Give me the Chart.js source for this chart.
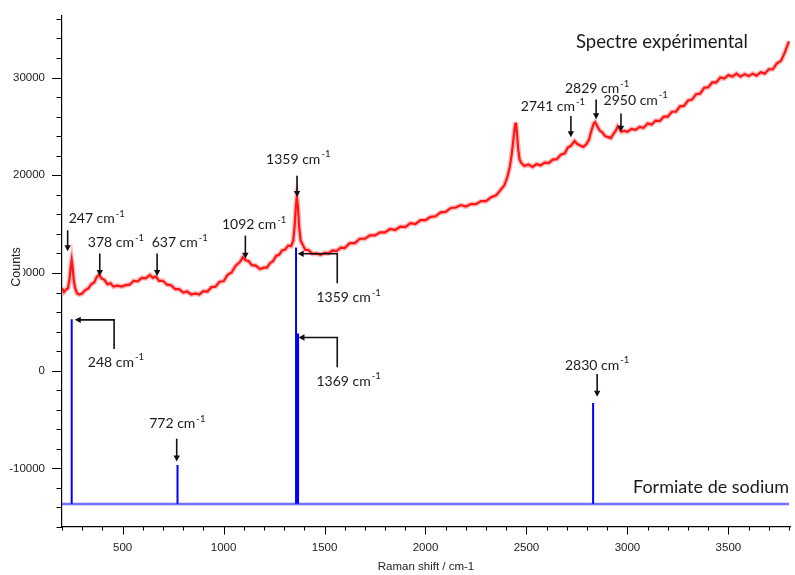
<!DOCTYPE html>
<html>
<head>
<meta charset="utf-8">
<script src="https://cdn.jsdelivr.net/npm/chart.js@4.4.1/dist/chart.umd.min.js"></script>
<style>
  body { margin: 0; background: #fff; }
  canvas { display: block; }
</style>
</head>
<body>
<canvas id="chart" width="795" height="575" style="width:795px;height:575px"></canvas>
<script>
// spectre experimental (Raman shift cm-1 / counts)
const redX = [200,210,220,230,238,244,248,252,258,265,275,285,300,315,330,345,360,372,384,395,410,425,440,455,475,495,515,535,555,575,595,615,635,650,665,680,700,720,740,760,780,800,820,840,860,880,900,920,940,960,980,1000,1020,1040,1060,1080,1095,1110,1125,1140,1160,1180,1200,1215,1230,1245,1260,1275,1290,1305,1320,1335,1345,1352,1358,1363,1368,1374,1382,1392,1405,1420,1440,1460,1480,1500,1520,1540,1560,1580,1600,1625,1650,1675,1700,1725,1750,1775,1800,1825,1850,1875,1900,1925,1950,1975,2000,2025,2050,2075,2100,2125,2150,2175,2200,2225,2250,2275,2300,2325,2350,2370,2390,2405,2418,2428,2437,2444,2448,2453,2459,2466,2475,2490,2510,2530,2550,2570,2590,2610,2630,2650,2670,2690,2705,2720,2738,2752,2767,2782,2797,2810,2822,2833,2840,2850,2862,2875,2890,2905,2918,2930,2942,2952,2960,2970,2985,3000,3020,3040,3060,3080,3100,3120,3140,3160,3180,3200,3220,3240,3260,3280,3300,3320,3340,3360,3380,3400,3420,3440,3460,3480,3500,3520,3540,3560,3580,3600,3620,3640,3660,3680,3700,3720,3740,3760,3780,3800];
const redY = [8450,8050,8300,8450,9500,10800,11350,10700,9300,8450,7900,7800,7900,8250,8400,8850,9050,9600,9850,9450,9300,8850,8950,8600,8700,8600,8750,8800,9200,9150,9500,9450,9800,9500,9650,9200,9200,8800,8750,8350,8350,8000,8100,7800,7900,7800,8150,8100,8550,8600,9100,9150,9800,10050,10750,11100,11600,11300,11200,10800,10750,10400,10550,10550,11000,11200,11750,11850,12300,12400,12800,12750,13300,14800,16800,17800,16900,14800,13300,12900,12350,12350,11950,12000,11850,12050,12000,12300,12250,12600,12550,13050,13050,13500,13500,13850,13850,14150,14150,14500,14400,14750,14700,15100,15000,15400,15400,15750,15800,16200,16250,16650,16700,16950,16800,17050,17050,17350,17350,17750,17950,18450,18950,19800,20900,22300,24000,25200,25400,24300,22700,21600,21250,20950,21100,20850,21150,21000,21300,21250,21600,21650,22100,22250,22850,23000,23500,23200,23050,22900,23200,23650,24600,25300,25450,25050,24600,24400,24000,23900,23800,24200,24550,25000,24800,24450,24550,24450,24750,24650,24950,24850,25300,25200,25600,25550,26000,26000,26500,26500,27050,27100,27650,27750,28300,28350,28950,29000,29500,29500,30000,29900,30250,30100,30400,30100,30350,30150,30400,30200,30550,30400,30850,30850,31450,31700,32600,33700];

// formiate de sodium (raies)
const stickX = [248, 772, 1359, 1369, 2830];
const stickTop = [5270, -9650, 12600, 3800, -3300];
const baseY = -13640;
const baseX = [200, 3800];

const xTicks = [500, 1000, 1500, 2000, 2500, 3000, 3500];
const yTicks = [-10000, 0, 10000, 20000, 30000];

// annotations : [texte, x centre, y centre]
const redLabels = [
  ['247', 372, 15560], ['378', 467, 13080], ['637', 783, 13080], ['1092', 1151, 14950],
  ['1359', 1370, 21640], ['2741', 2631, 27000], ['2829', 2850, 28880], ['2950', 3041, 27690]
];
// fleches verticales : [x, y haut, y pointe]
const redArrows = [
  [228, 14370, 12230], [387, 11990, 9680], [671, 11990, 9680], [1108, 13830, 11450],
  [1364, 19940, 17770], [2720, 26060, 23890], [2845, 27760, 25720], [2968, 26330, 24460]
];
const blueLabels = [
  ['248', 467, 860], ['1359', 1619, 7480], ['1369', 1619, -1080], ['772', 771, -5430], ['2830', 2850, 580]
];
const blueArrows = [[768, -6960, -9300], [2850, -340, -2680]];
// fleches coudees : [x vertical, y bas, y coude, x pointe]
const elbows = [[458, 2210, 5200, 263], [1563, 8940, 11960, 1367], [1563, 350, 3400, 1371]];

const redData = redX.map((x, i) => ({ x, y: redY[i] }));
const stickData = [];
stickX.forEach((x, i) => {
  stickData.push({ x, y: baseY }, { x, y: stickTop[i] }, { x, y: null });
});
const baseData = baseX.map(x => ({ x, y: baseY }));

const annot = {
  id: 'annot',
  afterDraw(chart) {
    const { ctx, chartArea: a, scales: { x, y } } = chart;
    const X = v => x.getPixelForValue(v);
    const Y = v => y.getPixelForValue(v);
    ctx.save();

    // graduations
    ctx.strokeStyle = '#000';
    ctx.lineWidth = 1;
    for (let v = -16000; v <= 36000; v += 2000) {
      const py = Math.round(Y(v)) + 0.5;
      const len = v % 10000 === 0 ? 10 : 5.5;
      ctx.beginPath(); ctx.moveTo(a.left - len, py); ctx.lineTo(a.left, py); ctx.stroke();
    }
    for (let v = 200; v <= 3800; v += 100) {
      const px = Math.round(X(v)) + 0.5;
      const len = v % 500 === 0 ? 7.5 : 3.5;
      ctx.beginPath(); ctx.moveTo(px, a.bottom); ctx.lineTo(px, a.bottom + len); ctx.stroke();
    }

    // titres des axes
    ctx.fillStyle = '#222';
    ctx.font = '11.5px "Liberation Sans", Arial, sans-serif';
    ctx.textAlign = 'center';
    ctx.textBaseline = 'middle';
    ctx.fillText('Raman shift / cm-1', (a.left + a.right) / 2, 567);
    ctx.save();
    ctx.translate(17, 267);
    ctx.rotate(-Math.PI / 2);
    ctx.font = '12.5px "Liberation Sans", Arial, sans-serif';
    const cw = ctx.measureText('Counts').width;
    ctx.fillStyle = '#fff';
    ctx.fillRect(-cw / 2 - 1, -7, cw + 2, 13);
    ctx.fillStyle = '#222';
    ctx.fillText('Counts', 0, 0);
    ctx.restore();

    // fleches
    ctx.strokeStyle = '#111';
    ctx.fillStyle = '#111';
    ctx.lineWidth = 1.6;
    const head = 6, hw = 3.2;
    const down = (vx, v1, v2) => {
      const px = X(vx), y1 = Y(v1), y2 = Y(v2);
      ctx.beginPath(); ctx.moveTo(px, y1); ctx.lineTo(px, y2 - head + 1); ctx.stroke();
      ctx.beginPath(); ctx.moveTo(px - hw, y2 - head); ctx.lineTo(px + hw, y2 - head); ctx.lineTo(px, y2); ctx.closePath(); ctx.fill();
    };
    redArrows.forEach(r => down(...r));
    blueArrows.forEach(r => down(...r));
    elbows.forEach(([vx, vb, vc, vt]) => {
      const px = X(vx), yb = Y(vb), yc = Y(vc), pt = X(vt);
      ctx.beginPath(); ctx.moveTo(px, yb); ctx.lineTo(px, yc); ctx.lineTo(pt + head - 1, yc); ctx.stroke();
      ctx.beginPath(); ctx.moveTo(pt + head, yc - hw); ctx.lineTo(pt + head, yc + hw); ctx.lineTo(pt, yc); ctx.closePath(); ctx.fill();
    });

    // textes
    const font = '"Lato", "Open Sans", sans-serif';
    const label = (num, vx, vy) => {
      const cx = X(vx), cy = Y(vy);
      ctx.font = `14px ${font}`;
      const main = num + ' cm';
      const w1 = ctx.measureText(main).width;
      ctx.font = `9.5px ${font}`;
      const w2 = ctx.measureText('-1').width;
      const x0 = cx - (w1 + w2 + 1) / 2;
      ctx.textAlign = 'left';
      ctx.font = `14px ${font}`;
      ctx.fillText(main, x0, cy);
      ctx.font = `9.5px ${font}`;
      ctx.fillText('-1', x0 + w1 + 1, cy - 5);
    };
    ctx.fillStyle = '#1a1a1a';
    ctx.textBaseline = 'middle';
    redLabels.forEach(l => label(...l));
    blueLabels.forEach(l => label(...l));

    ctx.font = `18.5px ${font}`;
    ctx.textAlign = 'left';
    ctx.fillText('Spectre expérimental', 576, 42);
    ctx.font = `18px ${font}`;
    ctx.fillText('Formiate de sodium', 633, 487);
    ctx.restore();
  }
};

new Chart(document.getElementById('chart'), {
  type: 'line',
  data: {
    datasets: [
      { data: baseData, borderColor: 'rgba(40,40,255,0.65)', borderWidth: 2.5, pointRadius: 0 },
      { data: stickData, borderColor: '#0000ff', borderWidth: 2, pointRadius: 0, spanGaps: false },
      { data: redData, borderColor: 'rgba(255,60,60,0.35)', borderWidth: 5, pointRadius: 0, tension: 0 },
      { data: redData, borderColor: '#ff0000', borderWidth: 2.2, pointRadius: 0, tension: 0 }
    ]
  },
  options: {
    responsive: false,
    animation: false,
    devicePixelRatio: 1,
    layout: { padding: { top: 16, right: 5, left: 0, bottom: 0 } },
    plugins: { legend: { display: false }, tooltip: { enabled: false } },
    scales: {
      x: {
        type: 'linear',
        min: 200,
        max: 3805,
        grid: { display: false, drawTicks: false },
        border: { display: true, color: '#000', width: 1.2 },
        afterBuildTicks: s => { s.ticks = xTicks.map(v => ({ value: v })); },
        afterFit: s => { s.height = 48; s.paddingLeft = 0; s.paddingRight = 0; },
        ticks: {
          autoSkip: false,
          maxRotation: 0,
          padding: 14,
          color: '#222',
          font: { family: '"Liberation Sans", Arial, sans-serif', size: 11.5 },
          callback: v => String(v)
        }
      },
      y: {
        min: -16000,
        max: 36300,
        grid: { display: false, drawTicks: false },
        border: { display: true, color: '#000', width: 1.2 },
        afterBuildTicks: s => { s.ticks = yTicks.map(v => ({ value: v })); },
        afterFit: s => { s.width = 62; s.paddingTop = 0; s.paddingBottom = 0; },
        ticks: {
          autoSkip: false,
          padding: 17,
          color: '#222',
          font: { family: '"Liberation Sans", Arial, sans-serif', size: 11.5 },
          callback: v => String(v)
        }
      }
    }
  },
  plugins: [annot]
});
</script>
</body>
</html>
